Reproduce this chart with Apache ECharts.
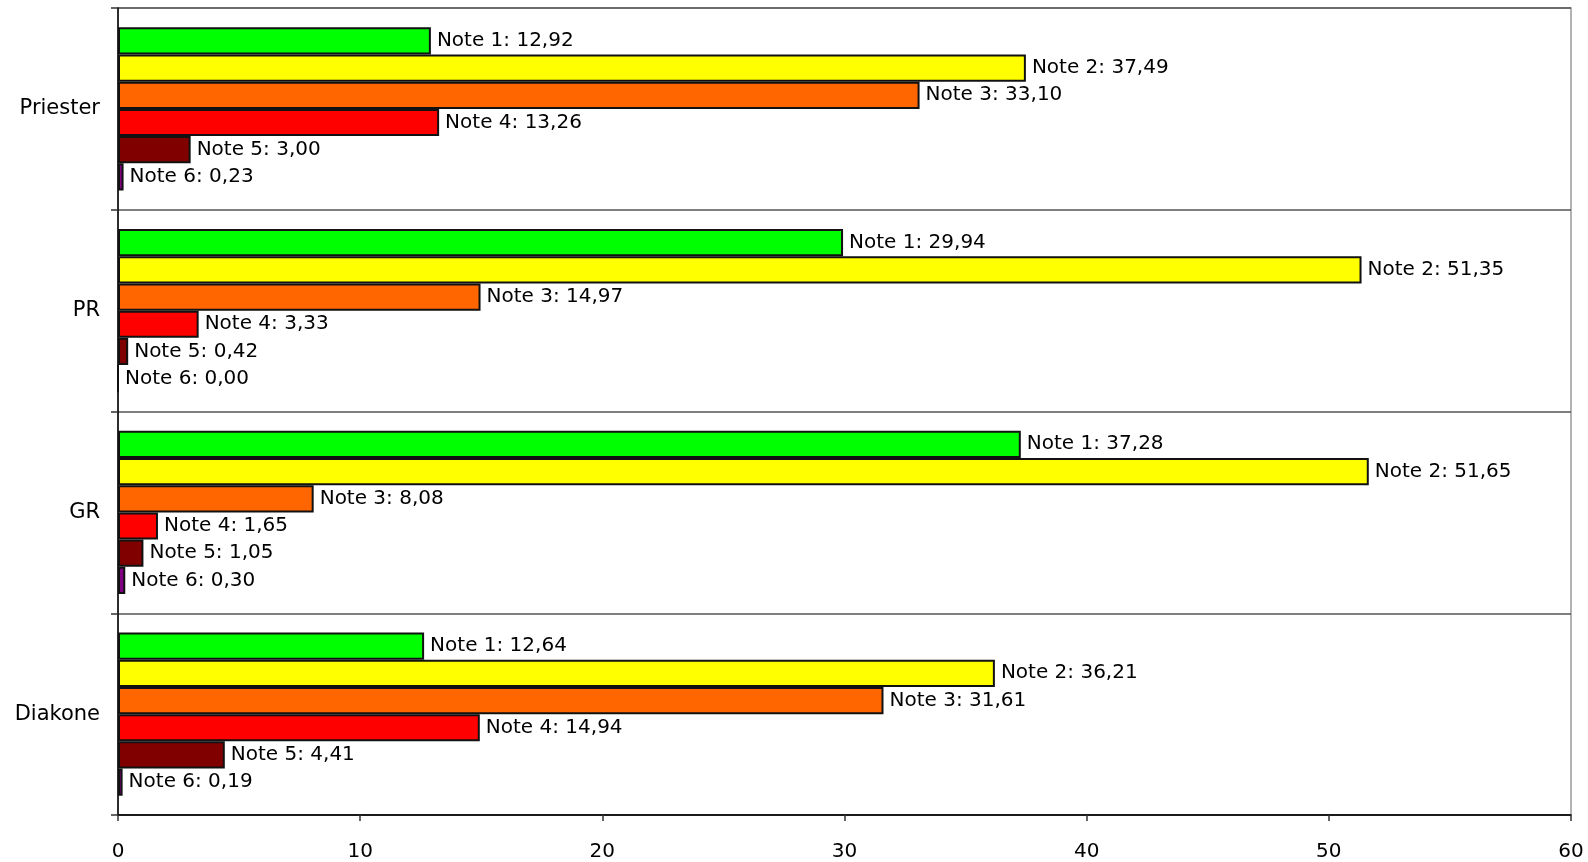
<!DOCTYPE html>
<html>
<head>
<meta charset="utf-8">
<script src="https://cdn.jsdelivr.net/npm/echarts@6/dist/echarts.min.js"></script>
<style>html,body{margin:0;padding:0;background:#fff}#c{width:1588px;height:862px}</style>
</head>
<body>
<div id="c"></div>
<script>
const categories = ['Priester', 'PR', 'GR', 'Diakone'];
const seriesNames = ['Note 1', 'Note 2', 'Note 3', 'Note 4', 'Note 5', 'Note 6'];
const note1 = [12.92, 29.94, 37.28, 12.64];
const note2 = [37.49, 51.35, 51.65, 36.21];
const note3 = [33.10, 14.97, 8.08, 31.61];
const note4 = [13.26, 3.33, 1.65, 14.94];
const note5 = [3.00, 0.42, 1.05, 4.41];
const note6 = [0.23, 0.00, 0.30, 0.19];
const xTicks = [0, 10, 20, 30, 40, 50, 60];
const colors = ['#00ff00', '#ffff00', '#ff6600', '#ff0000', '#800000', '#800080'];

const values = [note1, note2, note3, note4, note5, note6];
const FONT = 'DejaVu Sans';

const chart = echarts.init(document.getElementById('c'));
chart.setOption({
  animation: false,
  backgroundColor: '#fff',
  grid: { left: 118, right: 17, top: 8, bottom: 46, show: true, borderColor: '#9a9a9a', borderWidth: 1.5, backgroundColor: 'transparent' },
  xAxis: {
    type: 'value', min: xTicks[0], max: xTicks[xTicks.length - 1], interval: 10,
    axisLine: { show: true, lineStyle: { color: '#000', width: 1.5 } },
    axisTick: { show: true, length: 6, lineStyle: { color: '#333', width: 1.5 } },
    splitLine: { show: false },
    axisLabel: { color: '#000', fontSize: 20, fontFamily: FONT, margin: 27 }
  },
  yAxis: {
    type: 'category', data: categories, inverse: true,
    axisLine: { show: true, lineStyle: { color: '#000', width: 1.5 } },
    axisTick: { show: true, length: 7, lineStyle: { color: '#333', width: 1.5 } },
    splitLine: { show: true, lineStyle: { color: '#555', width: 1.5 } },
    axisLabel: { color: '#000', fontSize: 21, fontFamily: FONT, margin: 18 }
  },
  series: seriesNames.map((name, i) => ({
    name: name,
    type: 'bar',
    data: values[i],
    barGap: '0%',
    barCategoryGap: '19%',
    itemStyle: { color: colors[i], borderColor: '#111', borderWidth: 2 },
    label: {
      show: true, position: 'right', distance: 6, color: '#000',
      fontSize: 20, fontFamily: FONT,
      formatter: p => name + ': ' + p.value.toFixed(2).replace('.', ',')
    }
  }))
});
</script>
</body>
</html>
